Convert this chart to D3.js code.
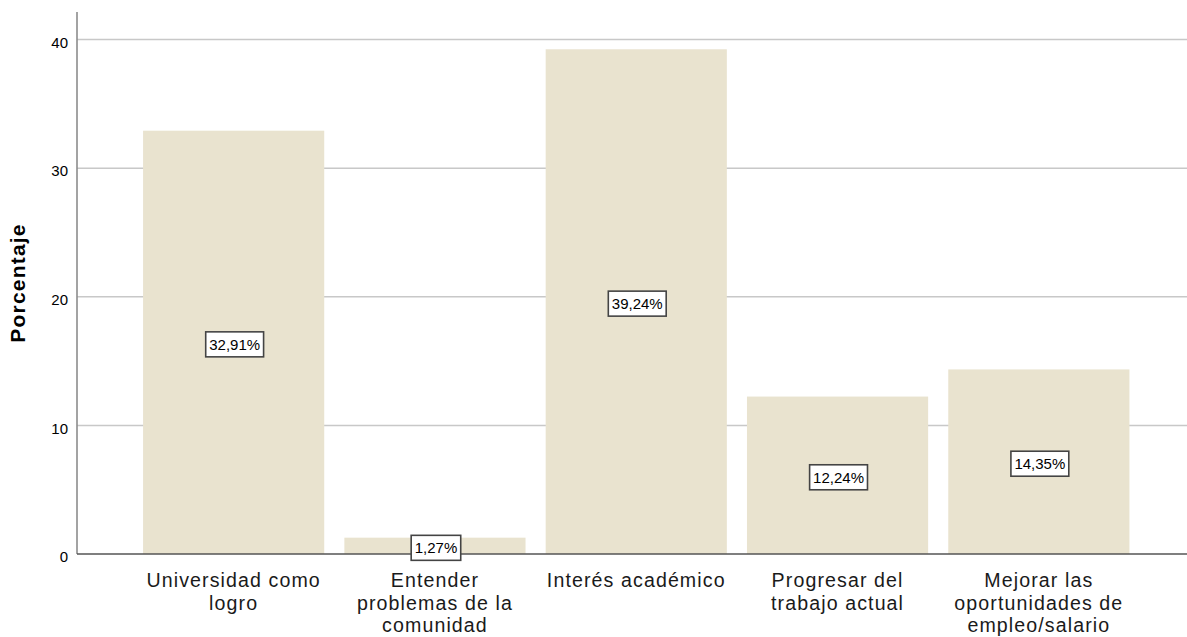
<!DOCTYPE html>
<meta charset="utf-8">
<style>
body { margin: 0; background: #fff; }
svg { display: block; }
text { font-family: "Liberation Sans", Arial, sans-serif; fill: #000; }
.grid line { stroke: #c8c8c8; stroke-width: 1.5px; }
.tick-label { font-size: 15px; text-anchor: end; }
.cat { font-size: 19.6px; letter-spacing: 1.1px; text-anchor: middle; fill: #1a1a1a; }
.bar { fill: #e9e3cf; }
.lbl rect { fill: #fff; stroke: #444; stroke-width: 1.6px; }
.lbl text { font-size: 15px; text-anchor: middle; }
</style>
<svg id="chart" width="1187" height="637"></svg>
<script src="https://d3js.org/d3.v7.min.js"></script>
<script>

var categories = ["Universidad como\nlogro", "Entender\nproblemas de la\ncomunidad", "Interés académico", "Progresar del\ntrabajo actual", "Mejorar las\noportunidades de\nempleo/salario"];
var values = [32.91, 1.27, 39.24, 12.24, 14.35];
var labels = ["32,91%", "1,27%", "39,24%", "12,24%", "14,35%"];
var yTicks = [0, 10, 20, 30, 40];

var width = 1187, height = 637;
var axisX = 77, baseY = 554;

var svg = d3.select("#chart");

var y = d3.scaleLinear()
    .domain([0, 40])
    .range([baseY, 39.5]);

var x = d3.scaleBand()
    .domain(d3.range(categories.length))
    .range([133, 1139.5])
    .paddingInner(0.1)
    .paddingOuter(0.05);

// gridlines
svg.append("g").attr("class", "grid")
  .selectAll("line")
  .data(yTicks.filter(function(d) { return d > 0; }))
  .enter().append("line")
    .attr("x1", axisX).attr("x2", width)
    .attr("y1", function(d) { return y(d); })
    .attr("y2", function(d) { return y(d); });

// tick labels
svg.append("g")
  .selectAll("text")
  .data(yTicks)
  .enter().append("text")
    .attr("class", "tick-label")
    .attr("x", 68)
    .attr("y", function(d) { return y(d); })
    .attr("dy", "0.55em")
    .text(function(d) { return d; });

// bars
svg.append("g")
  .selectAll("rect")
  .data(values)
  .enter().append("rect")
    .attr("class", "bar")
    .attr("x", function(d, i) { return x(i); })
    .attr("width", x.bandwidth())
    .attr("y", function(d) { return y(d); })
    .attr("height", function(d) { return y(0) - y(d); });

// axes lines
svg.append("line")
    .attr("x1", axisX).attr("x2", axisX)
    .attr("y1", 12).attr("y2", baseY)
    .attr("stroke", "#8c8c8c").attr("stroke-width", 1.6);
svg.append("line")
    .attr("x1", axisX).attr("x2", width)
    .attr("y1", baseY).attr("y2", baseY)
    .attr("stroke", "#555").attr("stroke-width", 1.5);

// value labels
var lbl = svg.append("g")
  .selectAll("g")
  .data(values)
  .enter().append("g")
    .attr("class", "lbl")
    .attr("transform", function(d, i) {
      return "translate(" + (x(i) + x.bandwidth() / 2 + 1) + "," + ((y(d) + y(0)) / 2 + 2) + ")";
    });

lbl.append("text")
    .attr("dy", "0.36em")
    .text(function(d, i) { return labels[i]; });

lbl.each(function() {
  var g = d3.select(this);
  var bb = g.select("text").node().getBBox();
  g.insert("rect", "text")
    .attr("x", bb.x - 3.5)
    .attr("y", -12.5)
    .attr("width", bb.width + 7)
    .attr("height", 25);
});

// category labels
svg.append("g")
  .selectAll("text")
  .data(categories)
  .enter().append("text")
    .attr("class", "cat")
    .attr("transform", function(d, i) { return "translate(" + (x(i) + x.bandwidth() / 2) + ",587)"; })
    .each(function(d) {
      var t = d3.select(this);
      d.split("\n").forEach(function(line, k) {
        t.append("tspan").attr("x", 0).attr("y", k * 22.5).text(line);
      });
    });

// y title
svg.append("text")
    .attr("transform", "translate(25,283) rotate(-90)")
    .attr("text-anchor", "middle")
    .style("font-size", "21px")
    .style("font-weight", "bold")
    .style("letter-spacing", "1.2px")
    .text("Porcentaje");

</script>
